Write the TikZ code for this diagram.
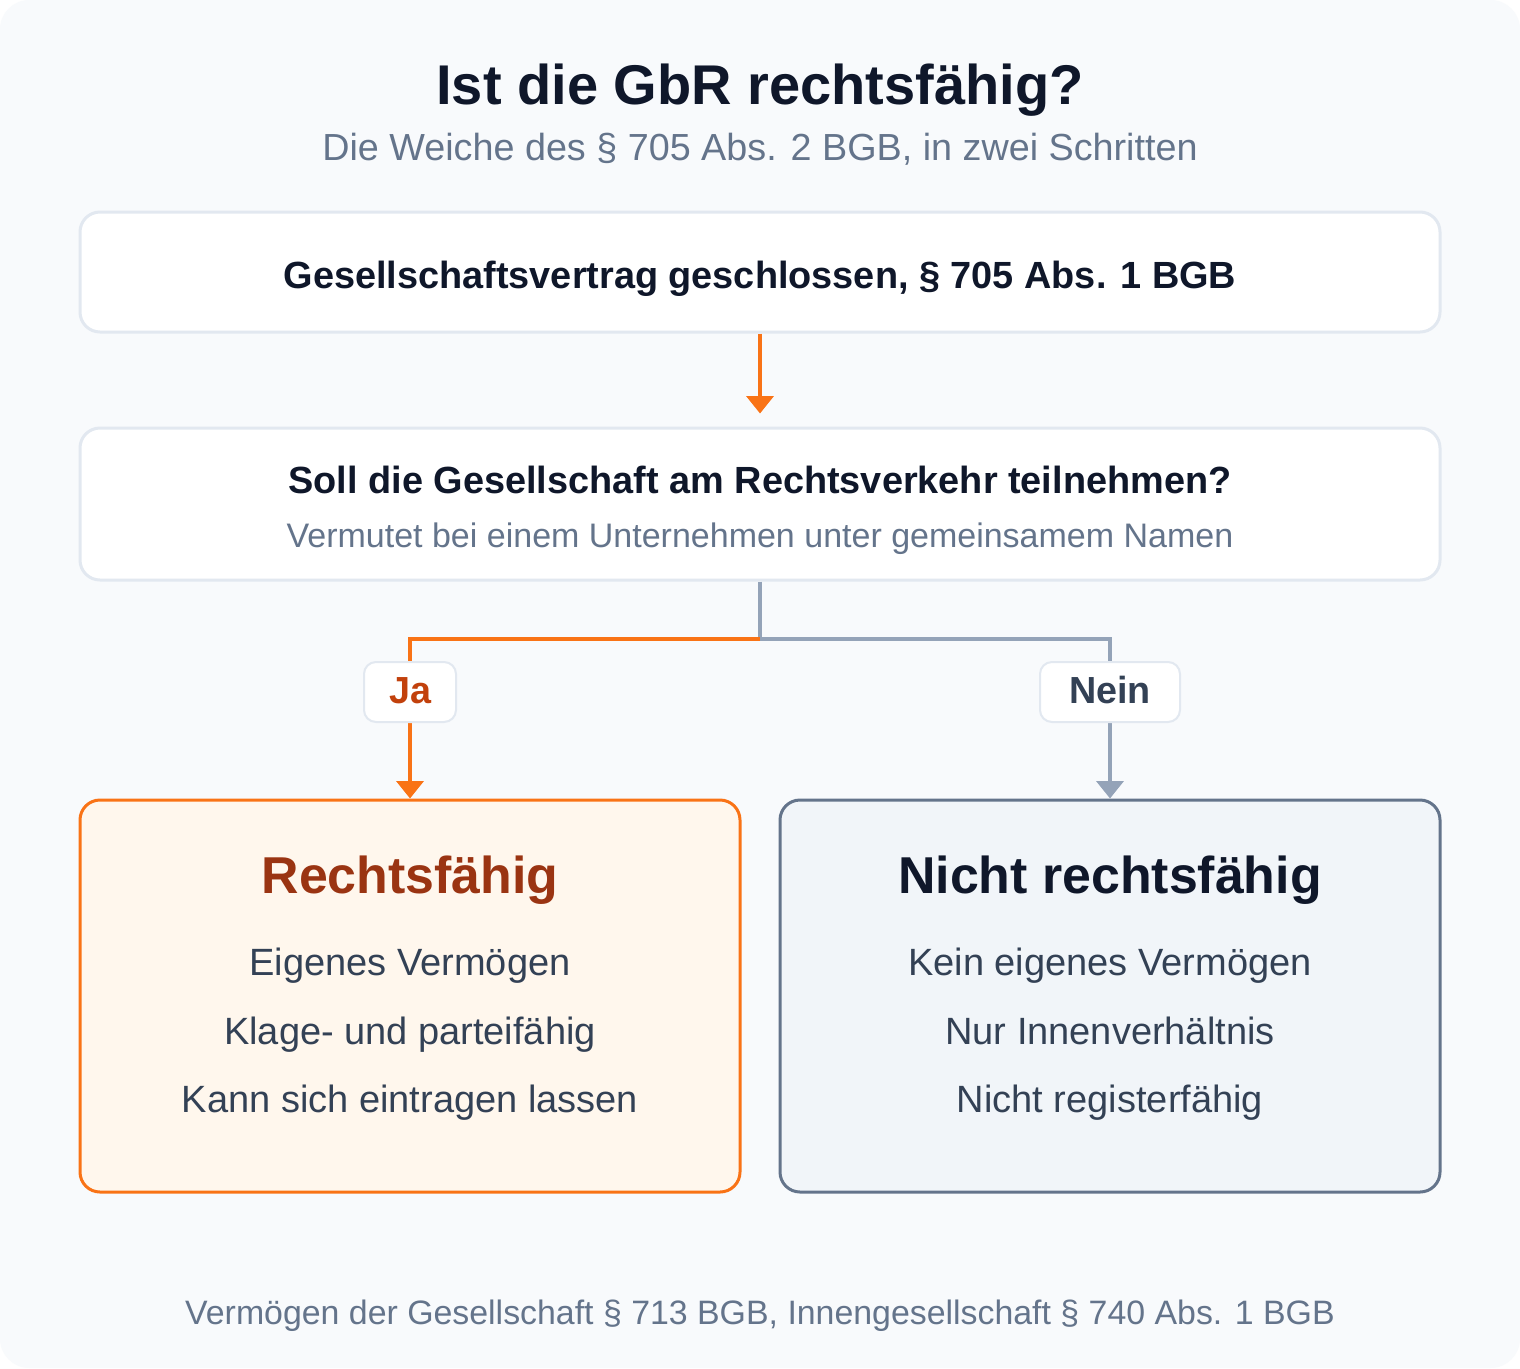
\documentclass[tikz,border=0pt]{standalone}
\usepackage{fontspec}
\setmainfont{Liberation Sans}
\usetikzlibrary{arrows.meta}

\definecolor{bgcol}{HTML}{F8FAFC}
\definecolor{edgecol}{HTML}{E2E8F0}
\definecolor{inkcol}{HTML}{0F172A}
\definecolor{mutedcol}{HTML}{64748B}
\definecolor{orangecol}{HTML}{F97316}
\definecolor{greylinecol}{HTML}{94A3B8}
\definecolor{jacol}{HTML}{C2410C}
\definecolor{slatecol}{HTML}{334155}
\definecolor{yesfill}{HTML}{FFF7ED}
\definecolor{yestitle}{HTML}{9A3412}
\definecolor{nofill}{HTML}{F1F5F9}

\tikzset{every picture/.style={line width=0.75pt}}
\tikzset{
  stepbox/.style={draw=edgecol, line width=2.25pt, fill=white, rounded corners=15pt, inner sep=0pt},
  yesbox/.style={draw=orangecol, line width=2.25pt, fill=yesfill, rounded corners=15pt, inner sep=0pt},
  nobox/.style={draw=mutedcol, line width=2.25pt, fill=nofill, rounded corners=15pt, inner sep=0pt},
  tagbox/.style={draw=edgecol, line width=1.5pt, fill=white, rounded corners=9pt, inner sep=0pt,
    minimum height=45pt},
  tagtext/.style={anchor=base, font=\fontsize{28.3}{34}\selectfont\bfseries},
  yesline/.style={draw=orangecol, line width=3pt},
  noline/.style={draw=greylinecol, line width=3pt},
  tip/.style={-{Triangle[length=13pt,width=20pt]}},
  boldtext/.style={anchor=base, text=inkcol, font=\fontsize{28.4}{34}\selectfont\bfseries},
  headtext/.style={anchor=base, font=\fontsize{38.9}{46}\selectfont\bfseries},
  itemtext/.style={anchor=base, text=slatecol, font=\fontsize{28.5}{34}\selectfont},
}

\begin{document}
\begin{tikzpicture}[x=0.75pt,y=0.75pt,yscale=-1,xscale=1]
	\useasboundingbox (0,0) rectangle (1520,1368);

	%Shape: background
	\fill [white] (0,0) rectangle (1520,1368);
	\fill [bgcol, rounded corners=22pt] (0,0) rectangle (1520,1368);

	% Title
	\node (title) at (760,104) [anchor=base, text=inkcol, font=\fontsize{42}{50}\selectfont\bfseries] {Ist die GbR rechtsfähig?};
	\node (subtitle) at (760,160) [anchor=base, text=mutedcol, font=\fontsize{28.3}{34}\selectfont] {Die Weiche des § 705 Abs. 2 BGB, in zwei Schritten};

	% Step 1
	\node (vertrag) at (760,272) [stepbox, minimum width=1020pt, minimum height=90pt] {};
	\node (vertragtext) at (760,288) [boldtext] {Gesellschaftsvertrag geschlossen, § 705 Abs. 1 BGB};

	% Step 2
	\node (frage) at (760,504) [stepbox, minimum width=1020pt, minimum height=114pt] {};
	\node (fragetext) at (760,493) [boldtext] {Soll die Gesellschaft am Rechtsverkehr teilnehmen?};
	\node (fragesub) at (760,547) [anchor=base, text=mutedcol, font=\fontsize{25.5}{30}\selectfont] {Vermutet bei einem Unternehmen unter gemeinsamem Namen};

	% Results
	\node (ja) at (410,996) [yesbox, minimum width=495pt, minimum height=294pt] {};
	\node (nein) at (1110,996) [nobox, minimum width=495pt, minimum height=294pt] {};

	% Connectors
	\draw [yesline, tip, shorten >=9.75pt] (vertrag.south) -- (frage.north);
	\coordinate (split) at (760,639);
	\draw [noline] (frage.south) -- (split);
	\draw [yesline, tip, line join=miter] (split) -| (ja.north);
	\draw [noline, tip, line join=miter] (split) -| (nein.north);

	% Branch labels
	\node (jatag) at (410,692) [tagbox, minimum width=69pt] {};
	\node (jatext) at (410,703) [tagtext, text=jacol] {Ja};
	\node (neintag) at (1110,692) [tagbox, minimum width=105pt] {};
	\node (neintext) at (1110,703) [tagtext, text=slatecol] {Nein};

	% Left box text
	\node (jatitle) at (410,893) [headtext, text=yestitle] {Rechtsfähig};
	\node (ja1) at (410,975) [itemtext] {Eigenes Vermögen};
	\node (ja2) at (410,1044) [itemtext] {Klage- und parteifähig};
	\node (ja3) at (410,1112) [itemtext] {Kann sich eintragen lassen};

	% Right box text
	\node (neintitle) at (1110,893) [headtext, text=inkcol] {Nicht rechtsfähig};
	\node (nein1) at (1110,975) [itemtext] {Kein eigenes Vermögen};
	\node (nein2) at (1110,1044) [itemtext] {Nur Innenverhältnis};
	\node (nein3) at (1110,1112) [itemtext] {Nicht registerfähig};

	% Footer
	\node (footer) at (760,1324) [anchor=base, text=mutedcol, font=\fontsize{25.4}{30}\selectfont] {Vermögen der Gesellschaft § 713 BGB, Innengesellschaft § 740 Abs. 1 BGB};

\end{tikzpicture}
\end{document}
